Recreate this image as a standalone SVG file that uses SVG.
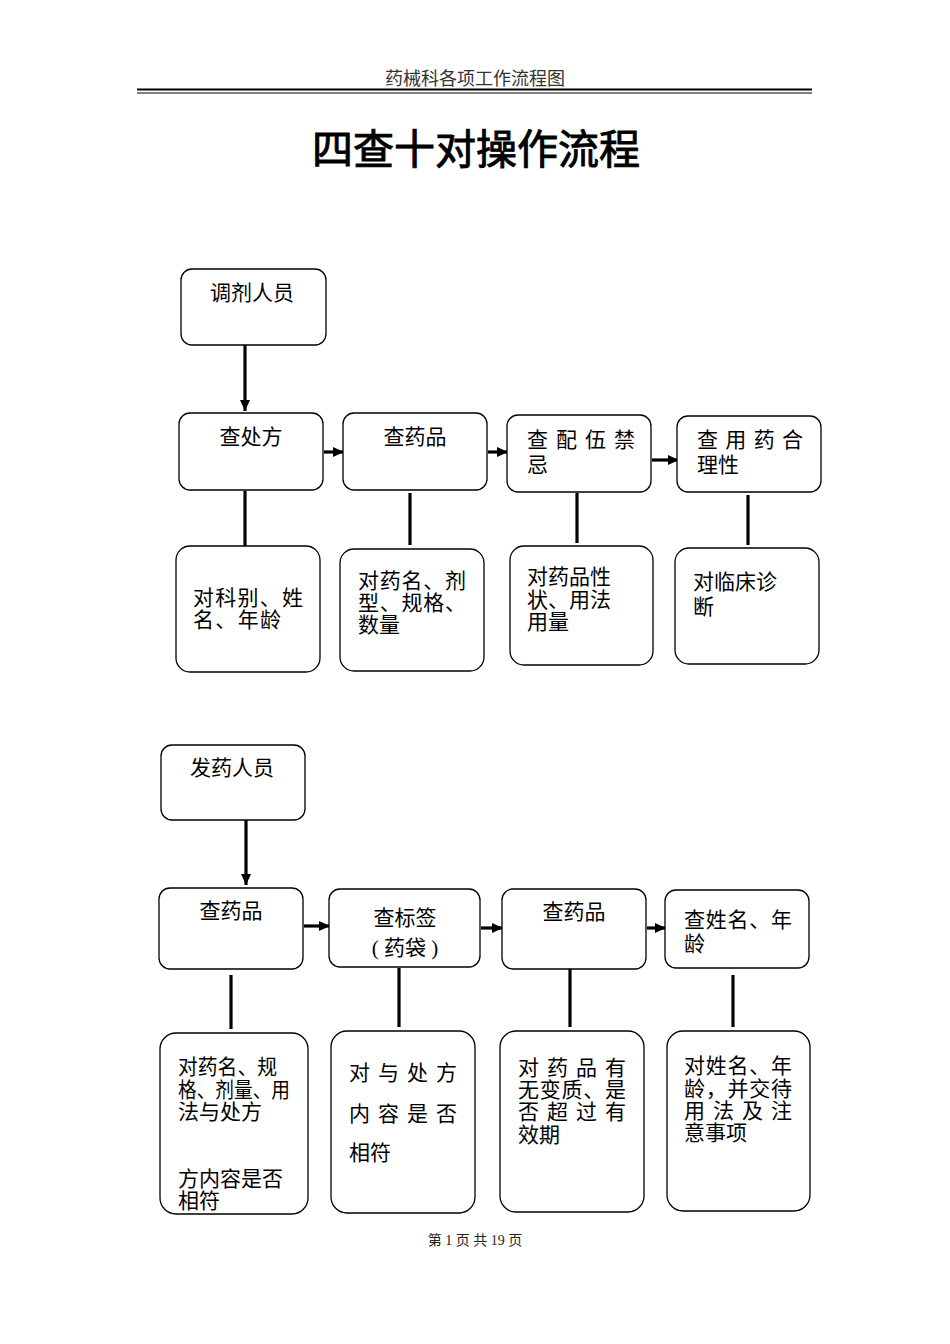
<svg xmlns="http://www.w3.org/2000/svg" width="950" height="1344" viewBox="0 0 950 1344">
<style>
.bx{fill:#fff;stroke:#000;stroke-width:1.3}
.t{font-family:"Liberation Serif","Noto Sans CJK SC",serif;font-size:21px;fill:#000}
.c{text-anchor:middle}
.ln{stroke:#000;stroke-width:3.2;fill:none}
</style>
<defs>
<marker id="ah" markerUnits="userSpaceOnUse" markerWidth="12" markerHeight="12" viewBox="0 0 12 12" refX="11" refY="6" orient="auto">
<path d="M0,1 L11,6 L0,11 Z" fill="#000"/>
</marker>
</defs>
<rect width="950" height="1344" fill="#fff"/>
<g id="header">
<text x="475" y="85" class="c" style="font-family:'Liberation Serif','Noto Sans CJK SC',serif;font-size:18px" fill="#333">药械科各项工作流程图</text>
<line x1="137" y1="89.5" x2="812" y2="89.5" stroke="#000" stroke-width="2"/>
<line x1="137" y1="93" x2="812" y2="93" stroke="#000" stroke-width="1.2"/>
</g>
<g id="title">
<text x="476" y="164" class="c" textLength="328" lengthAdjust="spacingAndGlyphs" style="font-family:'Liberation Serif','Noto Sans CJK SC',serif;font-size:41px;stroke:#000;stroke-width:0.9">四查十对操作流程</text>
</g>
<g id="connectors">
<line class="ln" x1="245" y1="345" x2="245" y2="411" marker-end="url(#ah)"/>
<line class="ln" x1="324" y1="452" x2="344" y2="452" marker-end="url(#ah)"/>
<line class="ln" x1="488" y1="452" x2="508" y2="452" marker-end="url(#ah)"/>
<line class="ln" x1="652" y1="460" x2="679" y2="460" marker-end="url(#ah)"/>
<line class="ln" x1="245" y1="491" x2="245" y2="546"/>
<line class="ln" x1="410" y1="493" x2="410" y2="545"/>
<line class="ln" x1="577" y1="493" x2="577" y2="543"/>
<line class="ln" x1="748" y1="495" x2="748" y2="545"/>
<line class="ln" x1="246" y1="820" x2="246" y2="885" marker-end="url(#ah)"/>
<line class="ln" x1="304" y1="926" x2="330" y2="926" marker-end="url(#ah)"/>
<line class="ln" x1="481" y1="928" x2="503" y2="928" marker-end="url(#ah)"/>
<line class="ln" x1="647" y1="928" x2="666" y2="928" marker-end="url(#ah)"/>
<line class="ln" x1="231" y1="975" x2="231" y2="1029"/>
<line class="ln" x1="399" y1="968" x2="399" y2="1027"/>
<line class="ln" x1="570" y1="967" x2="570" y2="1027"/>
<line class="ln" x1="733" y1="975" x2="733" y2="1027"/>
</g>
<g id="n_tiaoji">
<rect class="bx" x="181" y="269" width="145" height="76" rx="11"/>
<text class="t" x="210" y="300">调剂人员</text>
</g>
<g id="n_chachufang">
<rect class="bx" x="179" y="413" width="144" height="77" rx="11"/>
<text class="t c" x="251" y="444">查处方</text>
</g>
<g id="n_chayaopin1">
<rect class="bx" x="343" y="413" width="144" height="77" rx="11"/>
<text class="t c" x="415" y="444">查药品</text>
</g>
<g id="n_peiwu">
<rect class="bx" x="507" y="415" width="144" height="77" rx="11"/>
<text class="t" x="527" y="447" textLength="108" lengthAdjust="spacing">查配伍禁</text>
<text class="t" x="527" y="472">忌</text>
</g>
<g id="n_heli">
<rect class="bx" x="677" y="416" width="144" height="76" rx="11"/>
<text class="t" x="697" y="447" textLength="106" lengthAdjust="spacing">查用药合</text>
<text class="t" x="697" y="472">理性</text>
</g>
<g id="n_d1">
<rect class="bx" x="176" y="546" width="144" height="126" rx="14"/>
<text class="t" x="193" y="605" textLength="110" lengthAdjust="spacing">对科别、姓</text>
<text class="t" x="193" y="627" textLength="88" lengthAdjust="spacing">名、年龄</text>
</g>
<g id="n_d2">
<rect class="bx" x="340" y="549" width="144" height="122" rx="14"/>
<text class="t" x="358" y="588" textLength="108" lengthAdjust="spacing">对药名、剂</text>
<text class="t" x="358" y="610" textLength="108" lengthAdjust="spacing">型、规格、</text>
<text class="t" x="358" y="632">数量</text>
</g>
<g id="n_d3">
<rect class="bx" x="510" y="546" width="143" height="119" rx="14"/>
<text class="t" x="527" y="584">对药品性</text>
<text class="t" x="527" y="607">状、用法</text>
<text class="t" x="527" y="629">用量</text>
</g>
<g id="n_d4">
<rect class="bx" x="675" y="548" width="144" height="116" rx="14"/>
<text class="t" x="693" y="589">对临床诊</text>
<text class="t" x="693" y="614">断</text>
</g>
<g id="n_fayao">
<rect class="bx" x="161" y="745" width="144" height="75" rx="11"/>
<text class="t" x="190" y="775">发药人员</text>
</g>
<g id="n_chayaopin2">
<rect class="bx" x="159" y="888" width="144" height="81" rx="11"/>
<text class="t c" x="231" y="918">查药品</text>
</g>
<g id="n_biaoqian">
<rect class="bx" x="329" y="889" width="151" height="78" rx="11"/>
<text class="t c" x="405" y="925">查标签</text>
<text class="t c" x="405" y="955">( 药袋 )</text>
</g>
<g id="n_chayaopin3">
<rect class="bx" x="502" y="889" width="144" height="80" rx="11"/>
<text class="t c" x="574" y="919">查药品</text>
</g>
<g id="n_xingming">
<rect class="bx" x="665" y="890" width="144" height="78" rx="11"/>
<text class="t" x="684" y="927" textLength="108" lengthAdjust="spacing">查姓名、年</text>
<text class="t" x="684" y="951">龄</text>
</g>
<g id="n_e1">
<rect class="bx" x="160" y="1033" width="148" height="181" rx="16"/>
<text class="t" x="178" y="1074" textLength="99" lengthAdjust="spacingAndGlyphs">对药名、规</text>
<text class="t" x="178" y="1097" textLength="112" lengthAdjust="spacingAndGlyphs">格、剂量、用</text>
<text class="t" x="178" y="1119">法与处方</text>
<text class="t" x="178" y="1186">方内容是否</text>
<text class="t" x="178" y="1208">相符</text>
</g>
<g id="n_e2">
<rect class="bx" x="331" y="1031" width="144" height="182" rx="16"/>
<text class="t" x="349" y="1080" textLength="108" lengthAdjust="spacing">对与处方</text>
<text class="t" x="349" y="1121" textLength="108" lengthAdjust="spacing">内容是否</text>
<text class="t" x="349" y="1160">相符</text>
</g>
<g id="n_e3">
<rect class="bx" x="500" y="1031" width="144" height="181" rx="16"/>
<text class="t" x="518" y="1075" textLength="108" lengthAdjust="spacing">对药品有</text>
<text class="t" x="518" y="1097" textLength="108" lengthAdjust="spacing">无变质、是</text>
<text class="t" x="518" y="1119" textLength="108" lengthAdjust="spacing">否超过有</text>
<text class="t" x="518" y="1142">效期</text>
</g>
<g id="n_e4">
<rect class="bx" x="667" y="1031" width="143" height="180" rx="16"/>
<text class="t" x="684" y="1073" textLength="108" lengthAdjust="spacing">对姓名、年</text>
<text class="t" x="684" y="1096" textLength="108" lengthAdjust="spacing">龄，并交待</text>
<text class="t" x="684" y="1118" textLength="108" lengthAdjust="spacing">用法及注</text>
<text class="t" x="684" y="1140">意事项</text>
</g>
<g id="footer">
<text x="475" y="1245" class="c" style="font-family:'Liberation Serif','Noto Sans CJK SC',serif;font-size:14px" fill="#222">第 1 页 共 19 页</text>
</g>
</svg>
